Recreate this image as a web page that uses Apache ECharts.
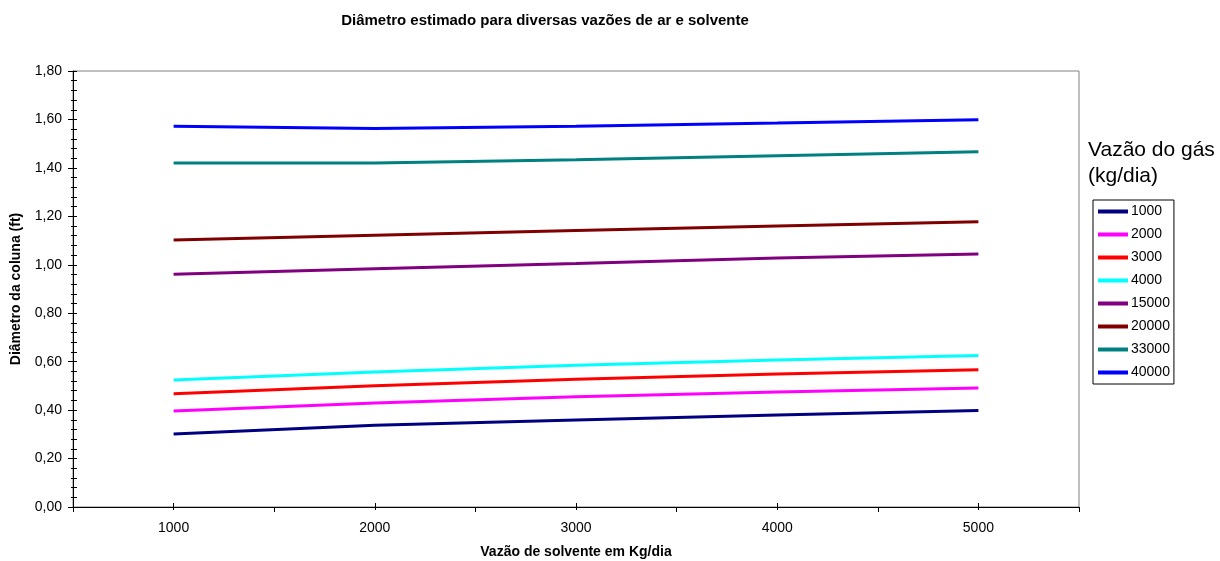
<!DOCTYPE html>
<html>
<head>
<meta charset="utf-8">
<script src="https://cdn.jsdelivr.net/npm/echarts@6/dist/echarts.min.js"></script>
<style>html,body{margin:0;padding:0;background:#fff}#c{width:1220px;height:561px}</style>
</head>
<body>
<div id="c"></div>
<script>
const categories = ['1000', '2000', '3000', '4000', '5000'];
const seriesNames = ['1000', '2000', '3000', '4000', '15000', '20000', '33000', '40000'];
const s1000  = [0.301, 0.337, 0.359, 0.380, 0.398];
const s2000  = [0.396, 0.429, 0.455, 0.475, 0.491];
const s3000  = [0.468, 0.501, 0.527, 0.549, 0.567];
const s4000  = [0.524, 0.557, 0.585, 0.607, 0.625];
const s15000 = [0.961, 0.984, 1.005, 1.028, 1.045];
const s20000 = [1.102, 1.122, 1.141, 1.160, 1.178];
const s33000 = [1.420, 1.420, 1.434, 1.450, 1.467];
const s40000 = [1.572, 1.563, 1.572, 1.585, 1.599];
const seriesValues = [s1000, s2000, s3000, s4000, s15000, s20000, s33000, s40000];
const colors = ['#000080', '#FF00FF', '#FF0000', '#00FFFF', '#800080', '#800000', '#008080', '#0000FF'];

const chart = echarts.init(document.getElementById('c'), null, {renderer: 'canvas'});
const font = 'Arial, "Liberation Sans", sans-serif';
const hidden = {axisLabel: {show: false}, axisLine: {show: false}, splitLine: {show: false}};

chart.setOption({
  animation: false,
  backgroundColor: '#fff',
  title: [
    {text: 'Diâmetro estimado para diversas vazões de ar e solvente', left: 540, top: 8, textAlign: 'center',
     textStyle: {fontFamily: font, fontSize: 15, fontWeight: 'bold', color: '#000'}},
    {text: 'Vazão do gás\n(kg/dia)', left: 1083, top: 132,
     textStyle: {fontFamily: font, fontSize: 21, fontWeight: 'normal', color: '#000', lineHeight: 26}}
  ],
  legend: {
    orient: 'vertical', left: 1093, top: 200,
    padding: [4, 4, 4, 5], borderColor: '#000', borderWidth: 1,
    itemWidth: 30, itemHeight: 4, itemGap: 8, icon: 'rect',
    data: seriesNames,
    textStyle: {fontFamily: font, fontSize: 14, color: '#000', lineHeight: 15, padding: [0, 0, 0, -2]}
  },
  grid: {left: 73, right: 141, top: 71, bottom: 54, show: true, borderColor: '#808080', borderWidth: 1,
         containLabel: false, outerBoundsMode: 'none'},
  xAxis: [
    {type: 'category', data: categories, boundaryGap: true,
     name: 'Vazão de solvente em Kg/dia', nameLocation: 'middle', nameGap: 38,
     nameTextStyle: {fontFamily: font, fontSize: 14, fontWeight: 'bold', color: '#000'},
     axisLine: {lineStyle: {color: '#000', width: 1}},
     axisTick: {show: true, inside: false, length: 5, lineStyle: {color: '#000'}},
     axisLabel: {fontFamily: font, fontSize: 14, color: '#000', margin: 14},
     splitLine: {show: false}},
    Object.assign({type: 'category', data: categories, boundaryGap: true, position: 'bottom',
     axisTick: {show: true, inside: true, alignWithLabel: true, length: 4, lineStyle: {color: '#000'}}}, hidden),
    Object.assign({type: 'category', data: categories, boundaryGap: true, position: 'bottom',
     axisTick: {show: true, inside: false, alignWithLabel: true, length: 3, lineStyle: {color: '#000'}}}, hidden)
  ],
  yAxis: [
    {type: 'value', min: 0, max: 1.8, interval: 0.2,
     name: 'Diâmetro da coluna (ft)', nameLocation: 'middle', nameGap: 50, nameRotate: 90,
     nameTextStyle: {fontFamily: font, fontSize: 14, fontWeight: 'bold', color: '#000'},
     axisLine: {show: true, lineStyle: {color: '#000', width: 1}},
     axisTick: {show: true, inside: false, length: 5, lineStyle: {color: '#000'}},
     minorTick: {show: true, splitNumber: 5, length: 2, lineStyle: {color: '#000'}},
     axisLabel: {fontFamily: font, fontSize: 14, color: '#000', margin: 11,
       formatter: v => v.toFixed(2).replace('.', ',')},
     splitLine: {show: false}},
    Object.assign({type: 'value', min: 0, max: 1.8, interval: 0.2, position: 'left',
     axisTick: {show: true, inside: true, length: 4, lineStyle: {color: '#000'}},
     minorTick: {show: true, splitNumber: 5, length: 4, lineStyle: {color: '#000'}}}, hidden)
  ],
  series: seriesNames.map((n, i) => ({
    name: n, type: 'line', data: seriesValues[i],
    xAxisIndex: 0, yAxisIndex: 0,
    showSymbol: false, symbol: 'none',
    lineStyle: {color: colors[i], width: 3},
    itemStyle: {color: colors[i]}
  }))
});
</script>
</body>
</html>
